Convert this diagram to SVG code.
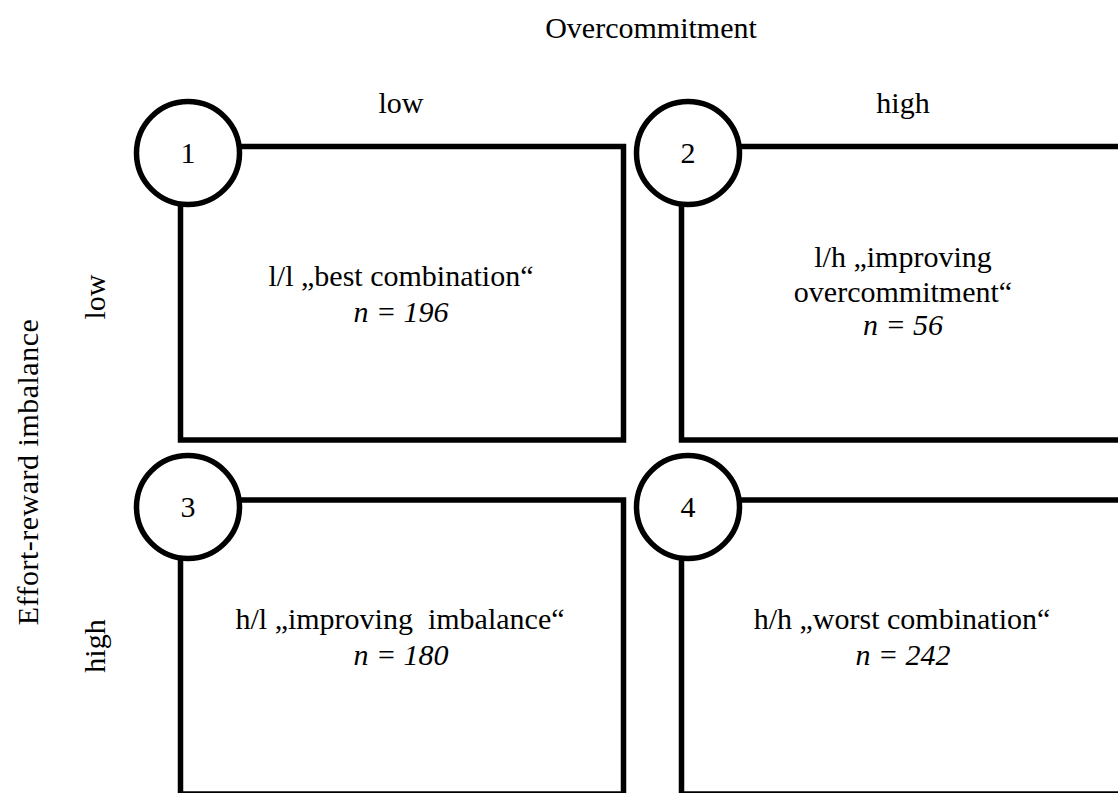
<svg xmlns="http://www.w3.org/2000/svg" width="1118" height="793" viewBox="0 0 1118 793">
  <style>
    text { font-family: "Liberation Serif", "Times New Roman", serif; font-size: 30px; fill: #000; }
    .c { text-anchor: middle; }
    .it { font-style: italic; }
    .box { fill: none; stroke: #000; stroke-width: 5.5; stroke-linejoin: miter; }
    .badge { fill: #fff; stroke: #000; stroke-width: 5.5; }
  </style>
  <rect width="1118" height="793" fill="#fff"/>

  <!-- axis titles and level labels -->
  <g id="axes">
    <text class="c" x="651" y="38">Overcommitment</text>
    <text class="c" x="401" y="113">low</text>
    <text class="c" x="903" y="113">high</text>
    <text class="c" transform="translate(38 472) rotate(-90)" letter-spacing="0.5">Effort-reward imbalance</text>
    <text class="c" transform="translate(105 297) rotate(-90)">low</text>
    <text class="c" transform="translate(105 646) rotate(-90)">high</text>
  </g>

  <g id="cell1">
    <rect class="box" x="180.5" y="146.5" width="443" height="293.5"/>
    <circle class="badge" cx="188" cy="153" r="51.5"/>
    <text class="c" x="188" y="163">1</text>
    <text class="c" x="401" y="286">l/l „best combination“</text>
    <text class="c it" x="401" y="322">n = 196</text>
  </g>

  <g id="cell2">
    <rect class="box" x="681.5" y="146.5" width="443" height="293.5"/>
    <circle class="badge" cx="688" cy="153" r="51.5"/>
    <text class="c" x="688" y="163">2</text>
    <text class="c" x="903" y="267">l/h „improving</text>
    <text class="c" x="903" y="302">overcommitment“</text>
    <text class="c it" x="903" y="335">n = 56</text>
  </g>

  <g id="cell3">
    <rect class="box" x="180.5" y="500" width="443" height="294"/>
    <circle class="badge" cx="188" cy="507" r="51.5"/>
    <text class="c" x="188" y="517">3</text>
    <text class="c" x="400" y="629" xml:space="preserve">h/l „improving  imbalance“</text>
    <text class="c it" x="401" y="665">n = 180</text>
  </g>

  <g id="cell4">
    <rect class="box" x="681.5" y="500" width="443" height="294"/>
    <circle class="badge" cx="688" cy="507" r="51.5"/>
    <text class="c" x="688" y="517">4</text>
    <text class="c" x="902" y="629">h/h „worst combination“</text>
    <text class="c it" x="903" y="665">n = 242</text>
  </g>

  <g id="connectors"/>
</svg>
